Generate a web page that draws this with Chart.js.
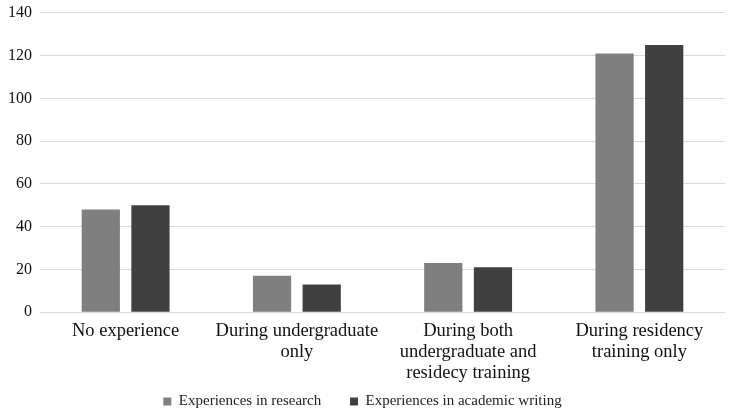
<!DOCTYPE html>
<html>
<head>
<meta charset="utf-8">
<script src="https://cdn.jsdelivr.net/npm/chart.js@4/dist/chart.umd.min.js"></script>
<style>
  html, body { margin: 0; padding: 0; background: #fff; }
  #wrap { width: 735px; height: 411px; }
</style>
</head>
<body>
<div id="wrap"><canvas id="chart"></canvas></div>
<script>
const categories = [
  "No experience",
  ["During undergraduate", "only"],
  ["During both", "undergraduate and", "residecy training"],
  ["During residency", "training only"],
];
const research = [48, 17, 23, 121];
const writing = [50, 13, 21, 125];
const seriesNames = ["Experiences in research", "Experiences in academic writing"];

const font = "'Liberation Serif', 'Times New Roman', serif";

new Chart(document.getElementById("chart"), {
  type: "bar",
  data: {
    labels: categories,
    datasets: [
      { label: seriesNames[0], data: research, backgroundColor: "#7f7f7f" },
      { label: seriesNames[1], data: writing, backgroundColor: "#404040" },
    ],
  },
  options: {
    responsive: true,
    maintainAspectRatio: false,
    animation: false,
    categoryPercentage: 0.58,
    barPercentage: 0.77,
    layout: { padding: { top: -4, right: 10, left: 0, bottom: -8 } },
    plugins: {
      legend: {
        position: "bottom",
        labels: {
          font: { family: font, size: 15 },
          color: "#222",
          boxWidth: 8,
          boxHeight: 8,
          padding: 10,
          // a bit of extra room after the first item, like the original
          generateLabels: (chart) =>
            Chart.defaults.plugins.legend.labels
              .generateLabels(chart)
              .map((l, i) => ({ ...l, text: i === 0 ? l.text + "     " : l.text })),
        },
      },
      tooltip: { enabled: false },
    },
    scales: {
      x: {
        grid: { display: false },
        border: { display: false },
        ticks: {
          font: { family: font, size: 18.5, lineHeight: 1.15 },
          color: "#111",
          maxRotation: 0,
          autoSkip: false,
          padding: 0,
        },
      },
      y: {
        min: 0,
        max: 140,
        ticks: {
          stepSize: 20,
          font: { family: font, size: 16, lineHeight: 0.6 },
          color: "#111",
          padding: 8,
        },
        grid: { color: "#d9d9d9", drawTicks: false },
        border: { display: false },
      },
    },
  },
});
</script>
</body>
</html>
